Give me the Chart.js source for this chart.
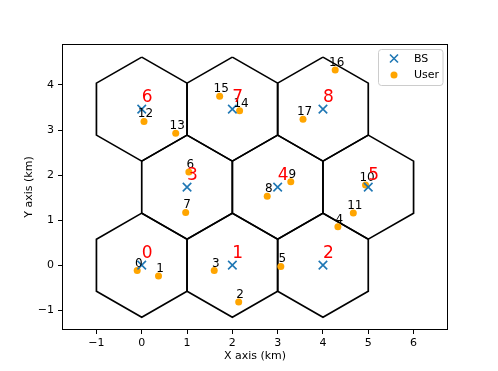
<!DOCTYPE html>
<html lang="en">
<head>
  <meta charset="UTF-8">
  <title>BS and User positions</title>
  <script src="https://cdn.jsdelivr.net/npm/chart.js"></script>
  <style>
    body {
      margin: 0;
      background: #fff;
    }
    .chart-box {
      width: 498px;
      height: 371px;
    }
  </style>
</head>
<body>
  <div class="chart-box">
    <canvas id="cellChart" width="498" height="371"></canvas>
  </div>

  <script>
    // Base stations (hexagon centres), km
    const bsX = [0, 2, 4, 1, 3, 5, 0, 2, 4];
    const bsY = [0, 0, 0, 1.732, 1.732, 1.732, 3.464, 3.464, 3.464];
    const bsLabels = ["0", "1", "2", "3", "4", "5", "6", "7", "8"];

    // Users, km
    const userX = [-0.10, 0.37, 2.14, 1.60, 4.33, 3.07, 1.04, 0.97, 2.77, 3.29, 4.94, 4.67, 0.05, 0.75, 2.16, 1.72, 4.27, 3.56];
    const userY = [-0.12, -0.24, -0.82, -0.12, 0.85, -0.03, 2.07, 1.17, 1.53, 1.85, 1.78, 1.16, 3.19, 2.93, 3.43, 3.75, 4.33, 3.24];
    const userLabels = ["0", "1", "2", "3", "4", "5", "6", "7", "8", "9", "10", "11", "12", "13", "14", "15", "16", "17"];

    const xTicks = [-1, 0, 1, 2, 3, 4, 5, 6];
    const yTicks = [-1, 0, 1, 2, 3, 4];

    const hexRadius = 2 / Math.sqrt(3);
    const font = "DejaVu Sans";

    // Hexagon outline around one centre (pointy top)
    function hexagon(cx, cy) {
      const pts = [];
      for (let k = 0; k <= 6; k++) {
        const a = Math.PI / 2 + k * Math.PI / 3;
        pts.push({ x: cx + hexRadius * Math.cos(a), y: cy + hexRadius * Math.sin(a) });
      }
      return pts;
    }

    const hexSets = bsX.map((x, i) => ({
      data: hexagon(x, bsY[i]),
      showLine: true,
      borderColor: "#000",
      borderWidth: 1.7,
      pointRadius: 0,
      fill: false
    }));

    const minus = v => String(v).replace("-", "\u2212");

    // Texts next to marks, spines and legend
    const annotate = {
      id: "annotate",
      afterDraw(chart) {
        const { ctx, chartArea: a, scales: { x, y } } = chart;
        ctx.save();

        ctx.textAlign = "center";
        ctx.textBaseline = "alphabetic";
        ctx.fillStyle = "#000";
        ctx.font = "12px " + font;
        userLabels.forEach((t, i) => {
          ctx.fillText(t, x.getPixelForValue(userX[i]) + 1.5, y.getPixelForValue(userY[i]) - 4);
        });

        ctx.textAlign = "left";
        ctx.fillStyle = "#ff0000";
        ctx.font = "17px " + font;
        bsLabels.forEach((t, i) => {
          ctx.fillText(t, x.getPixelForValue(bsX[i]), y.getPixelForValue(bsY[i]) - 7);
        });

        // frame
        ctx.strokeStyle = "#000";
        ctx.lineWidth = 1;
        ctx.strokeRect(a.left + 0.5, a.top + 0.5, a.right - a.left - 1, a.bottom - a.top - 1);

        // legend
        const lx = 378.5, ly = 49.5, lw = 64.5, lh = 36;
        ctx.beginPath();
        ctx.roundRect(lx, ly, lw, lh, 3);
        ctx.fillStyle = "rgba(255,255,255,0.8)";
        ctx.fill();
        ctx.strokeStyle = "#cccccc";
        ctx.lineWidth = 1;
        ctx.stroke();

        ctx.strokeStyle = "#1f77b4";
        ctx.lineWidth = 1.6;
        ctx.beginPath();
        ctx.moveTo(390, 54.5); ctx.lineTo(398, 62.5);
        ctx.moveTo(398, 54.5); ctx.lineTo(390, 62.5);
        ctx.stroke();

        ctx.fillStyle = "#ffa500";
        ctx.beginPath();
        ctx.arc(394, 75, 3.5, 0, Math.PI * 2);
        ctx.fill();

        ctx.fillStyle = "#000";
        ctx.font = "11px " + font;
        ctx.textBaseline = "middle";
        ctx.fillText("BS", 414, 59);
        ctx.fillText("User", 414, 75);

        ctx.restore();
      }
    };

    new Chart(document.getElementById("cellChart"), {
      type: "scatter",
      data: {
        datasets: [
          {
            label: "BS",
            data: bsX.map((x, i) => ({ x: x, y: bsY[i] })),
            pointStyle: "crossRot",
            pointRadius: 6,
            borderColor: "#1f77b4",
            borderWidth: 1.6
          },
          {
            label: "User",
            data: userX.map((x, i) => ({ x: x, y: userY[i] })),
            pointStyle: "circle",
            pointRadius: 3.5,
            backgroundColor: "#ffa500",
            borderColor: "#ffa500",
            borderWidth: 0
          },
          ...hexSets
        ]
      },
      options: {
        responsive: false,
        animation: false,
        devicePixelRatio: 1,
        layout: { padding: { left: 0, top: 44, right: 50, bottom: 0 } },
        plugins: {
          legend: { display: false },
          tooltip: { enabled: false }
        },
        scales: {
          x: {
            type: "linear",
            min: -1.76,
            max: 6.76,
            afterBuildTicks: s => { s.ticks = xTicks.map(v => ({ value: v })); },
            afterFit: s => { s.height = 41; },
            grid: { drawOnChartArea: false, drawTicks: true, tickLength: 4, color: "#000" },
            border: { display: false },
            ticks: {
              autoSkip: false,
              maxRotation: 0,
              padding: 3,
              color: "#000",
              font: { family: font, size: 11 },
              callback: v => minus(v)
            },
            title: {
              display: true,
              text: "X axis (km)",
              color: "#000",
              font: { family: font, size: 11 },
              padding: { top: 0, bottom: 8 }
            }
          },
          y: {
            type: "linear",
            min: -1.44,
            max: 4.91,
            afterBuildTicks: s => { s.ticks = yTicks.map(v => ({ value: v })); },
            afterFit: s => { s.width = 62; },
            grid: { drawOnChartArea: false, drawTicks: true, tickLength: 4, color: "#000" },
            border: { display: false },
            ticks: {
              autoSkip: false,
              padding: 4,
              color: "#000",
              font: { family: font, size: 11 },
              callback: v => minus(v)
            },
            title: {
              display: true,
              text: "Y axis (km)",
              color: "#000",
              font: { family: font, size: 11 },
              padding: { top: 23, bottom: 0 }
            }
          }
        }
      },
      plugins: [annotate]
    });
  </script>
</body>
</html>
